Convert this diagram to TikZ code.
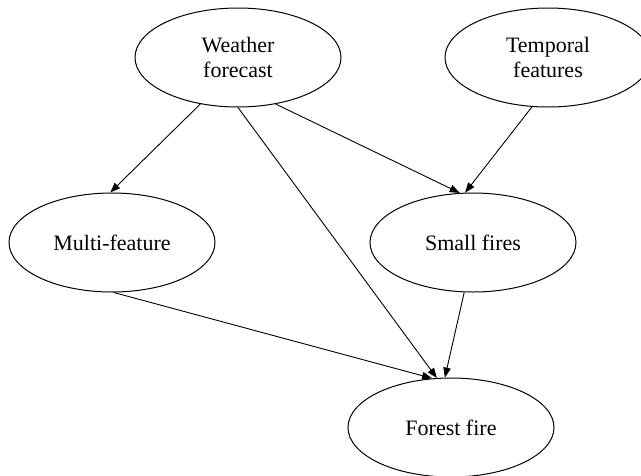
\documentclass[tikz,border=0pt]{standalone}
\usepackage{fontspec}
\setmainfont{Liberation Serif}
\usetikzlibrary{shapes.geometric,arrows.meta}
\begin{document}
\begin{tikzpicture}[x=1pt,y=-1pt,
  nodebox/.style={ellipse,draw,line width=1pt,minimum width=206pt,minimum height=99pt,inner sep=0pt,align=center,font=\fontsize{22}{25}\selectfont},
  edge/.style={line width=0.9pt,-{Triangle[length=10pt,width=7.5pt]}}]
\useasboundingbox (0,0) rectangle (641,475);
\node[nodebox] (w) at (238,57.5) {Weather\\forecast};
\node[nodebox] (t) at (548,57.5) {Temporal\\features};
\node[nodebox] (m) at (112,242.5) {Multi-feature};
\node[nodebox] (s) at (473,242.5) {Small fires};
\node[nodebox] (f) at (451,427.5) {Forest fire};
\draw[edge] (w.231) -- (m.92);
\draw[edge] (w.-90) -- (f.106);
\draw[edge] (w.-51) -- (s.105);
\draw[edge] (t.-108) -- (s.99);
\draw[edge] (m.-88) -- (f.111);
\draw[edge] (s.-100) -- (f.97);
\end{tikzpicture}
\end{document}
